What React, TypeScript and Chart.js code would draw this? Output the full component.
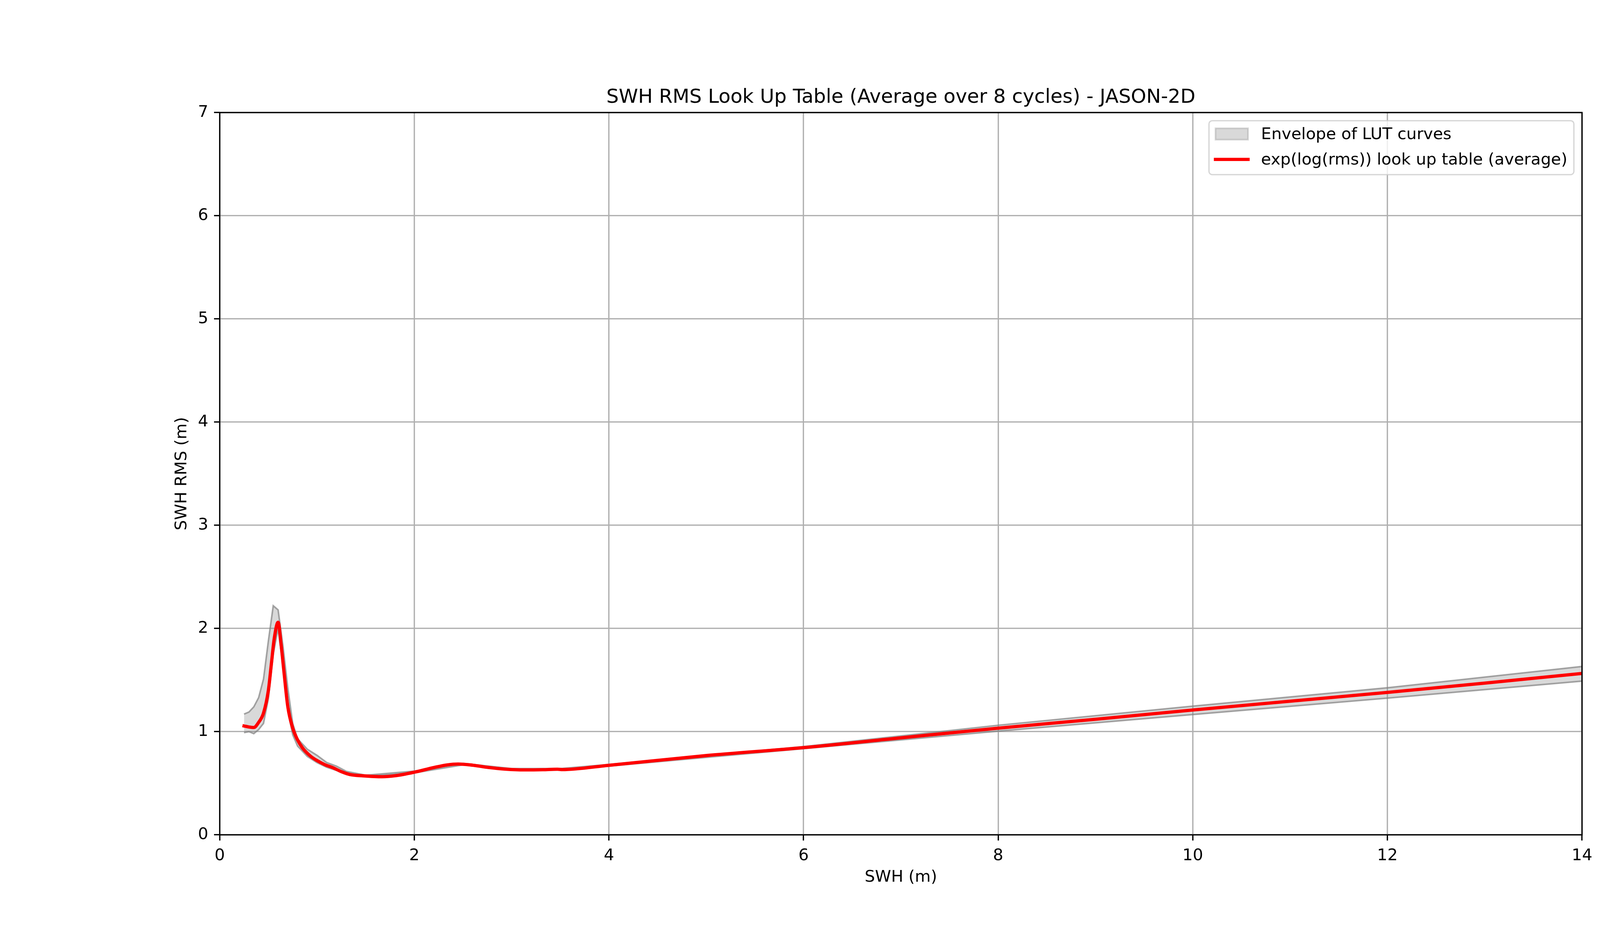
import React, { useEffect, useRef } from "react";
import { Chart, registerables } from "chart.js";

Chart.register(...registerables);

// ---------------- data ----------------
const envelopeX = [
  0.25, 0.3, 0.35, 0.4, 0.45, 0.5, 0.55, 0.6, 0.65, 0.7, 0.75, 0.8, 0.9, 1.0,
  1.1, 1.2, 1.3, 1.5, 2.0, 2.5, 3.0, 3.5, 4, 6, 8, 10, 12, 14,
];
const envelopeUpper = [
  1.17, 1.19, 1.24, 1.33, 1.51, 1.88, 2.22, 2.18, 1.83, 1.42, 1.08, 0.93, 0.83,
  0.77, 0.7, 0.665, 0.615, 0.578, 0.617, 0.692, 0.642, 0.642, 0.682, 0.855,
  1.062, 1.247, 1.425, 1.632,
];
const envelopeLower = [
  0.99, 1.0, 0.98, 1.02, 1.08, 1.32, 1.75, 2.0, 1.63, 1.2, 0.97, 0.86, 0.76,
  0.7, 0.655, 0.625, 0.585, 0.565, 0.6, 0.678, 0.628, 0.628, 0.666, 0.835,
  1.005, 1.166, 1.325, 1.49,
];
const meanX = [
  0.25, 0.3, 0.35, 0.4, 0.45, 0.5, 0.53, 0.56, 0.6, 0.63, 0.66, 0.7, 0.75, 0.8,
  0.85, 0.93, 1.0, 1.08, 1.16, 1.25, 1.34, 1.47, 1.67, 1.8, 2.0, 2.2, 2.34,
  2.45, 2.6, 2.76, 2.93, 3.13, 3.32, 3.47, 3.52, 4.0, 5, 6, 7, 8, 9, 10, 11,
  12, 13, 14,
];
const meanY = [
  1.055, 1.045, 1.04, 1.09, 1.18, 1.4, 1.65, 1.9, 2.06, 1.85, 1.58, 1.24,
  1.035, 0.92, 0.843, 0.765, 0.72, 0.68, 0.652, 0.612, 0.584, 0.572, 0.563,
  0.572, 0.607, 0.652, 0.678, 0.686, 0.675, 0.653, 0.637, 0.629, 0.631, 0.636,
  0.632, 0.674, 0.768, 0.845, 0.94, 1.034, 1.12, 1.21, 1.295, 1.38, 1.47,
  1.564,
];
const xTickValues = [0, 2, 4, 6, 8, 10, 12, 14];
const yTickValues = [0, 1, 2, 3, 4, 5, 6, 7];
const TITLE = "SWH RMS Look Up Table (Average over 8 cycles) - JASON-2D";
const X_LABEL = "SWH (m)";
const Y_LABEL = "SWH RMS (m)";
const LEGEND_LABELS = [
  "Envelope of LUT curves",
  "exp(log(rms)) look up table (average)",
];

// ---------------- layout / style ----------------
const W = 4500;
const H = 2400;
const PT = 300 / 72;
const AX_LEFT = 0.125 * W;
const AX_RIGHT = 0.9 * W;
const AX_TOP = 0.12 * H;
const AX_BOTTOM = 0.89 * H;
const FONT = "'DejaVu Sans', 'Liberation Sans', sans-serif";
const FS = 10 * PT;
const ENV_FILL = "rgba(128,128,128,0.3)";
const ENV_EDGE = "rgba(128,128,128,0.7)";

export default function App() {
  const ref = useRef<HTMLCanvasElement | null>(null);

  useEffect(() => {
    document.body.style.margin = "0";
    const canvas = ref.current;
    if (!canvas) return;

    const decor = {
      id: "mplDecor",
      afterDraw(chart: any) {
        const ctx = chart.ctx as CanvasRenderingContext2D;
        const ca = chart.chartArea;
        ctx.save();
        // spines
        ctx.strokeStyle = "#000";
        ctx.lineWidth = 0.8 * PT;
        ctx.strokeRect(ca.left, ca.top, ca.right - ca.left, ca.bottom - ca.top);

        // title
        ctx.fillStyle = "#000";
        ctx.font = `${12 * PT}px ${FONT}`;
        ctx.textAlign = "center";
        ctx.textBaseline = "alphabetic";
        ctx.fillText(TITLE, (ca.left + ca.right) / 2, ca.top - 6 * PT);

        // axis labels
        ctx.font = `${FS}px ${FONT}`;
        ctx.textBaseline = "middle";
        ctx.fillText(X_LABEL, (ca.left + ca.right) / 2, 2245);
        ctx.save();
        ctx.translate(466, (ca.top + ca.bottom) / 2);
        ctx.rotate(-Math.PI / 2);
        ctx.fillText(Y_LABEL, 0, 0);
        ctx.restore();

        // legend
        const pad = 0.4 * FS;
        const handleLen = 2.0 * FS;
        const textPad = 0.8 * FS;
        ctx.font = `${FS}px ${FONT}`;
        const tw = Math.max(...LEGEND_LABELS.map((l) => ctx.measureText(l).width));
        const boxRight = ca.right - 0.5 * FS;
        const boxTop = ca.top + 0.5 * FS;
        const boxW = pad * 2 + handleLen + textPad + tw;
        const boxH = 138;
        const boxLeft = boxRight - boxW;
        const r = 0.2 * FS;
        ctx.beginPath();
        ctx.roundRect(boxLeft, boxTop, boxW, boxH, r);
        ctx.fillStyle = "rgba(255,255,255,0.8)";
        ctx.fill();
        ctx.strokeStyle = "rgba(204,204,204,0.8)";
        ctx.lineWidth = 0.8 * PT;
        ctx.stroke();

        const hx = boxLeft + pad;
        const row1 = boxTop + 34;
        const row2 = boxTop + 99;
        // patch
        const ph = 0.7 * FS;
        ctx.fillStyle = ENV_FILL;
        ctx.fillRect(hx, row1 - ph / 2, handleLen, ph);
        ctx.strokeStyle = ENV_FILL;
        ctx.lineWidth = 1.0 * PT;
        ctx.strokeRect(hx, row1 - ph / 2, handleLen, ph);
        // red line
        ctx.beginPath();
        ctx.moveTo(hx, row2);
        ctx.lineTo(hx + handleLen, row2);
        ctx.strokeStyle = "#ff0000";
        ctx.lineWidth = 2 * PT;
        ctx.lineCap = "square";
        ctx.stroke();
        // texts
        ctx.fillStyle = "#000";
        ctx.textAlign = "left";
        ctx.textBaseline = "middle";
        const tx = hx + handleLen + textPad;
        ctx.fillText(LEGEND_LABELS[0], tx, row1 + 2);
        ctx.fillText(LEGEND_LABELS[1], tx, row2 + 2);
        ctx.restore();
      },
    };

    const tickFont = { family: FONT, size: FS };
    const chart = new Chart(canvas, {
      type: "line",
      data: {
        datasets: [
          {
            label: "upper",
            data: envelopeX.map((x, i) => ({ x, y: envelopeUpper[i] })),
            borderColor: ENV_EDGE,
            borderWidth: 4,
            backgroundColor: ENV_FILL,
            fill: "+1",
            pointRadius: 0,
            tension: 0,
            order: 2,
          },
          {
            label: "lower",
            data: envelopeX.map((x, i) => ({ x, y: envelopeLower[i] })),
            borderColor: ENV_EDGE,
            borderWidth: 4,
            backgroundColor: ENV_FILL,
            fill: false,
            pointRadius: 0,
            tension: 0,
            order: 2,
          },
          {
            label: LEGEND_LABELS[1],
            data: meanX.map((x, i) => ({ x, y: meanY[i] })),
            borderColor: "#ff0000",
            borderWidth: 2 * PT,
            borderJoinStyle: "round",
            borderCapStyle: "square",
            fill: false,
            pointRadius: 0,
            cubicInterpolationMode: "monotone",
            order: 0,
          },
        ],
      },
      options: {
        animation: false,
        responsive: false,
        devicePixelRatio: 1,
        events: [],
        layout: {
          padding: { left: 0, right: W - AX_RIGHT, top: AX_TOP, bottom: 0 },
        },
        plugins: {
          legend: { display: false },
          title: { display: false },
          tooltip: { enabled: false },
        },
        scales: {
          x: {
            type: "linear",
            min: 0,
            max: 14,
            afterFit: (s: any) => {
              s.height = H - AX_BOTTOM;
            },
            afterBuildTicks: (s: any) => {
              s.ticks = xTickValues.map((v) => ({ value: v }));
            },
            ticks: {
              font: tickFont,
              color: "#000",
              padding: 3.5 * PT,
              maxRotation: 0,
              autoSkip: false,
            },
            grid: {
              color: "#b0b0b0",
              lineWidth: 0.8 * PT,
              tickColor: "#000",
              tickWidth: 0.8 * PT,
              tickLength: 3.5 * PT,
            },
            border: { display: false },
          },
          y: {
            type: "linear",
            min: 0,
            max: 7,
            afterFit: (s: any) => {
              s.width = AX_LEFT;
            },
            afterBuildTicks: (s: any) => {
              s.ticks = yTickValues.map((v) => ({ value: v }));
            },
            ticks: {
              font: tickFont,
              color: "#000",
              padding: 3.5 * PT,
              autoSkip: false,
            },
            grid: {
              color: "#b0b0b0",
              lineWidth: 0.8 * PT,
              tickColor: "#000",
              tickWidth: 0.8 * PT,
              tickLength: 3.5 * PT,
            },
            border: { display: false },
          },
        },
      } as any,
      plugins: [decor],
    });

    return () => {
      chart.destroy();
    };
  }, []);

  return (
    <div style={{ width: W, height: H, background: "#fff" }}>
      <canvas ref={ref} width={W} height={H} style={{ display: "block", width: W, height: H }} />
    </div>
  );
}
